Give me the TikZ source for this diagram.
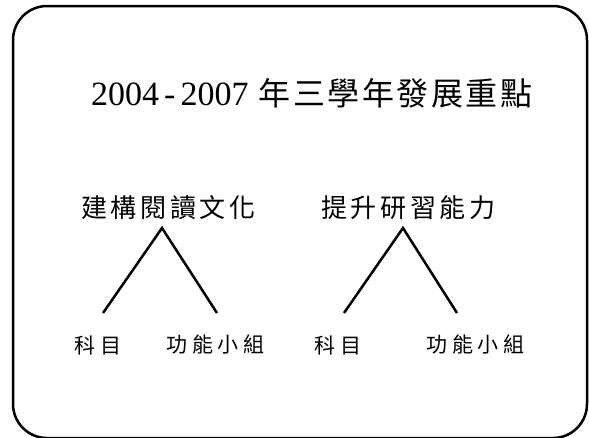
\documentclass[tikz,border=0pt]{standalone}
\usepackage{fontspec}
\setmainfont{Liberation Serif}
\newfontfamily\cjk{Noto Sans CJK TC}

\begin{document}
\begin{tikzpicture}[x=1pt,y=-1pt,
  headline/.style={anchor=base west,inner sep=0pt,font=\fontsize{34}{34}\selectfont},
  goal/.style={anchor=west,inner sep=0pt,font=\cjk\fontsize{26}{26}\selectfont\addfontfeature{LetterSpace=14}},
  item/.style={anchor=west,inner sep=0pt,font=\cjk\fontsize{21}{21}\selectfont\addfontfeature{LetterSpace=23}},
  branch/.style={line width=2.5pt}]
\useasboundingbox (0,0) rectangle (589,437);
\clip (0,0) rectangle (589,437);
\draw[line width=2.5pt,rounded corners=34pt] (13,6) rectangle (587,438);
\node[headline] (head) at (91,105) {2004\hspace{5pt}-\hspace{5pt}2007\hspace{10pt}{\cjk\fontsize{32}{32}\selectfont\addfontfeature{LetterSpace=8}年三學年發展重點}};
\node[goal] (read) at (81,208) {建構閱讀文化};
\node[goal] (learn) at (321,208) {提升研習能力};
\node[item] (subjA) at (74,345) {科目};
\node[item] (teamA) at (166,345) {功能小組};
\node[item] (subjB) at (314,345) {科目};
\node[item] (teamB) at (426,345) {功能小組};
\coordinate (readtop) at (162,228);
\coordinate (readl) at (103,313);
\coordinate (readr) at (217,313);
\coordinate (learntop) at (403,228);
\coordinate (learnl) at (344,313);
\coordinate (learnr) at (457,313);
\draw[branch] (readl) -- (readtop) -- (readr);
\draw[branch] (learnl) -- (learntop) -- (learnr);
\end{tikzpicture}
\end{document}
